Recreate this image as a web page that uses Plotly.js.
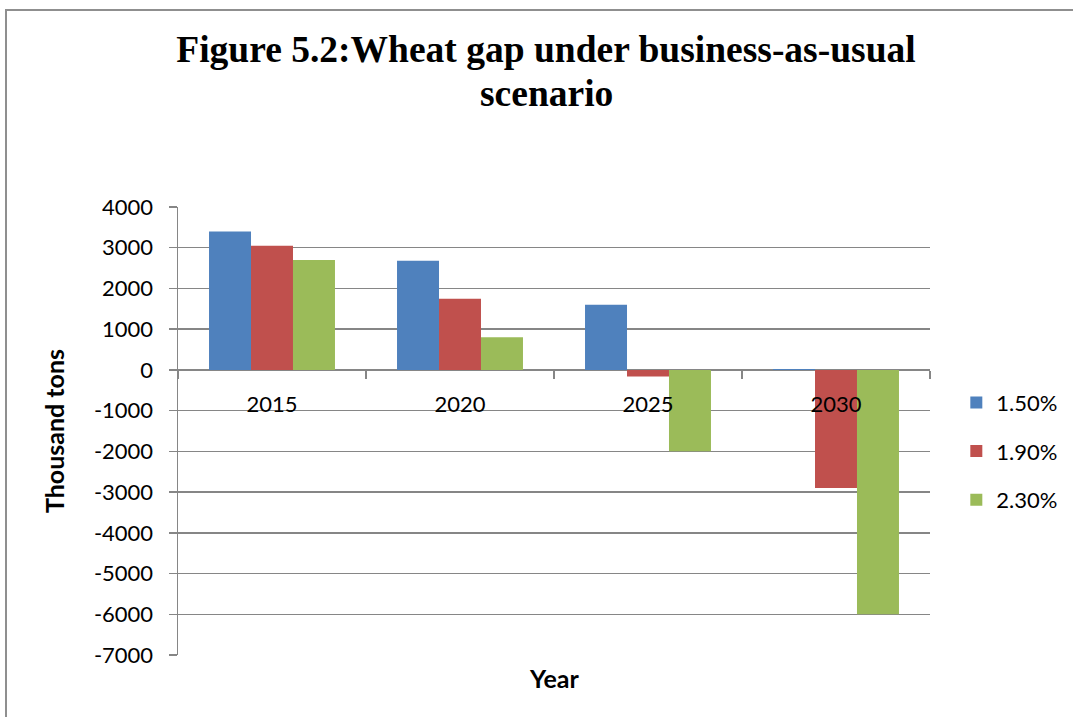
<!DOCTYPE html>
<html>
<head>
<meta charset="utf-8">
<script src="https://cdn.plot.ly/plotly-3.0.1.min.js"></script>
<style>
html,body{margin:0;padding:0;background:#fff;}
#frame{position:absolute;left:5px;top:9px;width:1090px;height:730px;border:2px solid #8f8f8f;box-sizing:border-box;}
#chart{position:absolute;left:0;top:0;width:1073px;height:717px;}
</style>
</head>
<body>
<div id="frame"></div>
<div id="chart"></div>
<script>
const years = ['2015', '2020', '2025', '2030'];
const seriesNames = ['1.50%', '1.90%', '2.30%'];
const s150 = [3400, 2680, 1600, 20];
const s190 = [3050, 1750, -160, -2900];
const s230 = [2700, 800, -2000, -6000];
const yTickVals = [4000, 3000, 2000, 1000, 0, -1000, -2000, -3000, -4000, -5000, -6000, -7000];
const yTickText = ['4000', '3000', '2000', '1000', '0', '-1000', '-2000', '-3000', '-4000', '-5000', '-6000', '-7000'];
const titleLine1 = 'Figure 5.2:Wheat gap under business-as-usual';
const titleLine2 = 'scenario';
const colors = ['#4F81BD', '#C0504D', '#9BBB59'];

const font = 'Lato, "Liberation Sans", sans-serif';
const serif = '"Liberation Serif", "Times New Roman", serif';
const data = [s150, s190, s230].map((vals, i) => ({
  type: 'bar', x: years, y: vals, name: seriesNames[i],
  marker: {color: colors[i]}, legendgroup: 'g' + i
}));

const layout = {
  width: 1073, height: 717,
  paper_bgcolor: 'rgba(0,0,0,0)', plot_bgcolor: 'rgba(0,0,0,0)',
  margin: {l: 178, r: 143, t: 207, b: 62, autoexpand: false},
  barmode: 'group', bargap: 0.33, bargroupgap: 0,
  font: {family: font, size: 22, color: '#000'},
  title: {
    text: '<b>' + titleLine1 + '</b>',
    font: {family: serif, size: 37.5, color: '#000'},
    xref: 'container', x: 546/1073, xanchor: 'center',
    yref: 'container', y: 1 - 36/717, yanchor: 'top'
  },
  xaxis: {
    type: 'category', anchor: 'free', position: 7/11,
    showline: false, showgrid: false, zeroline: false,
    ticks: 'outside', tickson: 'boundaries', ticklen: 8, tickwidth: 1.5, tickcolor: '#868686',
    ticklabelstandoff: 19,
    tickfont: {family: font, size: 22, color: '#000'}
  },
  yaxis: {
    range: [-7000, 4000], autorange: false,
    tickvals: yTickVals, ticktext: yTickText,
    showgrid: true, gridcolor: '#868686', gridwidth: 1.5,
    zeroline: true, zerolinecolor: '#868686', zerolinewidth: 1.5,
    showline: true, linecolor: '#868686', linewidth: 1.5,
    ticks: 'outside', ticklen: 8, tickwidth: 1.5, tickcolor: '#868686',
    ticklabelstandoff: 11,
    tickfont: {family: font, size: 22, color: '#000'},
    title: {text: '<b>Thousand tons</b>', font: {family: font, size: 25, color: '#000'}, standoff: 22}
  },
  legend: {
    x: 1.035, xanchor: 'left', y: 0.61, yanchor: 'top',
    font: {family: font, size: 22, color: '#000'},
    traceorder: 'grouped', tracegroupgap: 17,
    bgcolor: 'rgba(0,0,0,0)'
  },
  annotations: [
    {
      text: '<b>' + titleLine2 + '</b>', xref: 'paper', yref: 'paper',
      x: (546 - 178)/752, y: (655 - 71)/448, xanchor: 'center', yanchor: 'top', showarrow: false,
      font: {family: serif, size: 37.5, color: '#000'}
    },
    {
      text: '<b>Year</b>', xref: 'paper', yref: 'paper', x: 0.5, y: -23/448,
      xanchor: 'center', yanchor: 'middle', showarrow: false,
      font: {family: font, size: 25, color: '#000'}
    }
  ]
};

Plotly.newPlot('chart', data, layout, {displayModeBar: false, staticPlot: true});
</script>
</body>
</html>
